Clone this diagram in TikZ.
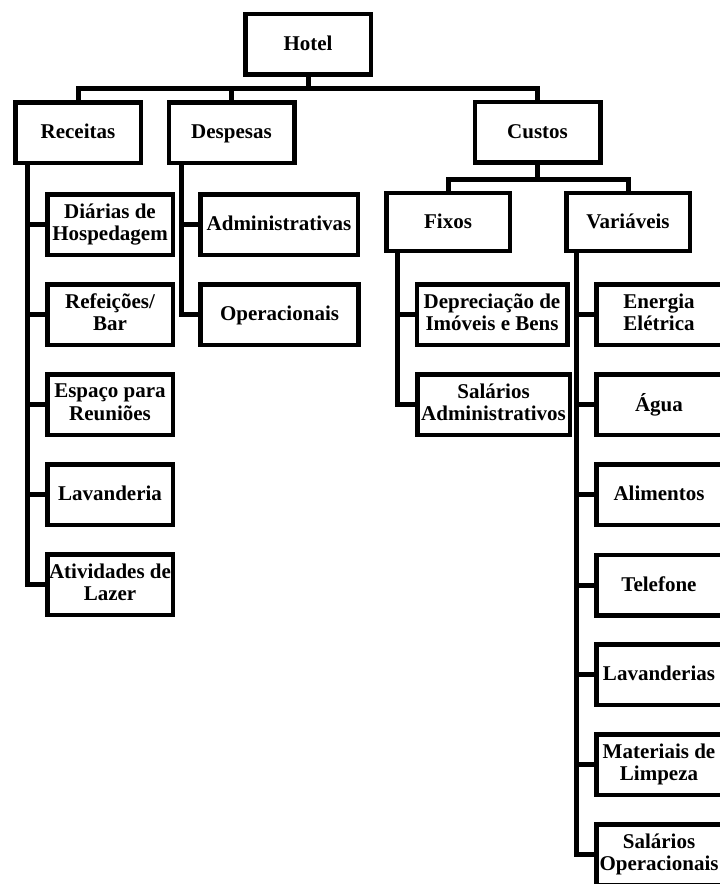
\documentclass[tikz,border=0pt]{standalone}
\usepackage{fontspec}
\setmainfont{Liberation Serif}
\newcommand{\boxstrut}{\rule[-5pt]{0pt}{22.5pt}}
\begin{document}
\begin{tikzpicture}[x=1pt,y=-1pt,
  box/.style={draw, line width=4.5pt, minimum width=#1, minimum height=60.5pt, inner sep=1pt, align=center, font=\fontsize{21}{22.5}\selectfont\bfseries,
    execute at begin node={\boxstrut}, execute at end node={\boxstrut}},
  box/.default=125.5pt,
  conn/.style={line width=5pt}]
\useasboundingbox (0,0) rectangle (720,884);
% level 0/1
\node[box] (hotel) at (308,44) {Hotel};
\node[box] (receitas) at (78,132.5) {Receitas};
\node[box] (despesas) at (231.5,132.5) {Despesas};
\node[box] (custos) at (537.5,132) {Custos};
\node[box=123.5pt, minimum height=58pt] (fixos) at (448,222) {Fixos};
\node[box=123.5pt, minimum height=58pt] (variaveis) at (628,222) {Variáveis};
% receitas children
\node[box] (diarias) at (110,224.5) {Diárias de\\Hospedagem};
\node[box] (refeicoes) at (110,314.5) {Refeições/\\Bar};
\node[box] (espaco) at (110,404.5) {Espaço para\\Reuniões};
\node[box] (lavanderia) at (110,494.5) {Lavanderia};
\node[box] (atividades) at (110,584.5) {Atividades de\\Lazer};
% despesas children
\node[box=157.5pt] (administrativas) at (279,224.5) {Administrativas};
\node[box=158pt] (operacionais) at (279.5,314.5) {Operacionais};
% fixos children
\node[box=150.5pt] (depreciacao) at (492,314.5) {Depreciação de\\Imóveis e Bens};
\node[box=152.5pt] (salariosadm) at (493.5,404.5) {Salários\\Administrativos};
% variaveis children
\node[box] (energia) at (659,314.5) {Energia\\Elétrica};
\node[box] (agua) at (659,404.5) {Água};
\node[box] (alimentos) at (659,494.5) {Alimentos};
\node[box] (telefone) at (659,585) {Telefone};
\node[box] (lavanderias) at (659,674.5) {Lavanderias};
\node[box] (materiais) at (659,764.5) {Materiais de\\Limpeza};
\node[box] (salariosop) at (659,854.5) {Salários\\Operacionais};
% top buses
\coordinate (bus) at (308,88);
\draw[conn] (hotel.south) -- (bus);
\draw[conn] (receitas.north) |- (bus) -| (custos.north);
\draw[conn] (despesas.north) -- (despesas.north |- bus);
\coordinate (cbus) at (537.5,179);
\draw[conn] (custos.south) -- (cbus);
\draw[conn] (fixos.north) |- (cbus) -| (variaveis.north);
% trunks
\coordinate (rt) at ([xshift=14pt]receitas.south west);
\draw[conn] (rt) |- (atividades.west);
\foreach \n in {diarias,refeicoes,espaco,lavanderia}
  \draw[conn] (\n.west) -- (\n.west -| rt);
\coordinate (dt) at ([xshift=15pt]despesas.south west);
\draw[conn] (dt) |- (operacionais.west);
\draw[conn] (administrativas.west) -- (administrativas.west -| dt);
\coordinate (ft) at ([xshift=13pt]fixos.south west);
\draw[conn] (ft) |- (salariosadm.west);
\draw[conn] (depreciacao.west) -- (depreciacao.west -| ft);
\coordinate (vt) at ([xshift=12pt]variaveis.south west);
\draw[conn] (vt) |- (salariosop.west);
\foreach \n in {energia,agua,alimentos,telefone,lavanderias,materiais}
  \draw[conn] (\n.west) -- (\n.west -| vt);
\end{tikzpicture}
\end{document}
